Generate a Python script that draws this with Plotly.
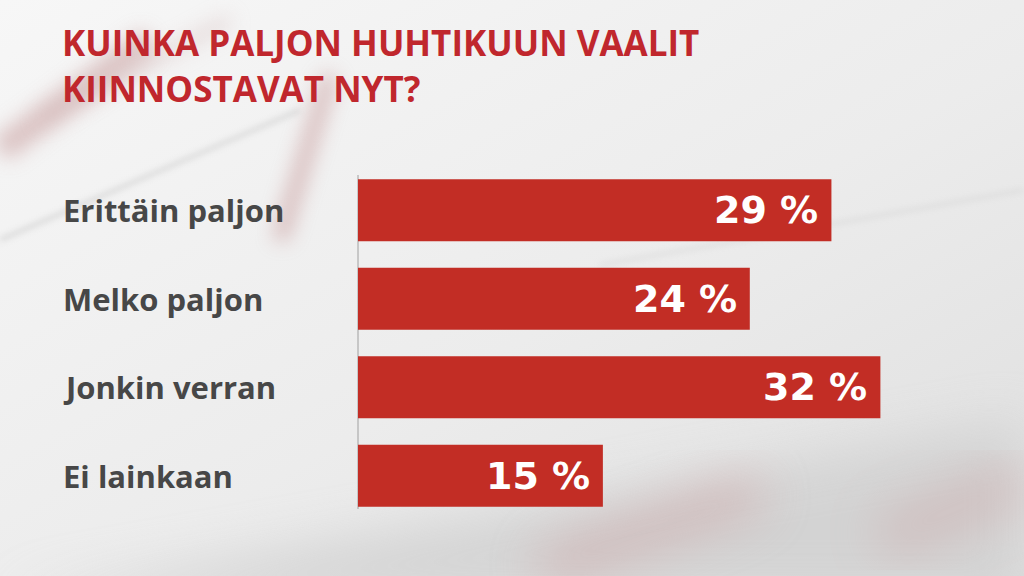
import plotly.graph_objects as go
import urllib.parse

categories = ["Erittäin paljon", "Melko paljon", "Jonkin verran", "Ei lainkaan"]
values = [29, 24, 32, 15]
value_labels = ["29 %", "24 %", "32 %", "15 %"]
title_text = "KUINKA PALJON HUHTIKUUN VAALIT<br>KIINNOSTAVAT NYT?"

BAR = "#c22d25"
RED_TITLE = "#c0272d"
LABEL = "#474747"

W, H = 1024, 576
ML, MR, MT, MB = 358, 13, 166, 56
XMAX = 40
PW, PH = W - ML - MR, H - MT - MB
TITLE_SIZE = 35


def px_x(px):
    return (px - ML) / PW


def px_y(py):
    return (H - MB - py) / PH


# soft photographic background (decoration only)
svg = f"""<svg xmlns='http://www.w3.org/2000/svg' width='{W}' height='{H}' viewBox='0 0 {W} {H}'>
<defs>
<linearGradient id='g' x1='0' y1='0' x2='1' y2='1'>
<stop offset='0' stop-color='#f7f7f7'/><stop offset='0.55' stop-color='#ececec'/><stop offset='1' stop-color='#dedede'/>
</linearGradient>
<filter id='b1' x='-50%' y='-50%' width='200%' height='200%'><feGaussianBlur stdDeviation='10'/></filter>
<filter id='b2' x='-50%' y='-50%' width='200%' height='200%'><feGaussianBlur stdDeviation='3'/></filter>
<filter id='b3' x='-50%' y='-50%' width='200%' height='200%'><feGaussianBlur stdDeviation='25'/></filter>
</defs>
<rect width='{W}' height='{H}' fill='url(#g)'/>
<path d='M0 150 L150 40' stroke='#c9a0a0' stroke-width='26' filter='url(#b1)' opacity='0.6'/>
<path d='M40 120 L230 20' stroke='#d4bcbc' stroke-width='12' filter='url(#b1)' opacity='0.5'/>
<path d='M330 75 L280 240' stroke='#c08a8a' stroke-width='14' filter='url(#b1)' opacity='0.6'/>
<path d='M0 240 L300 110' stroke='#b8b8b8' stroke-width='3' filter='url(#b2)' opacity='0.6'/>
<path d='M600 265 L1024 190' stroke='#c8c8c8' stroke-width='2' filter='url(#b2)' opacity='0.7'/>
<path d='M0 600 L1024 420 L1024 600 Z' fill='#d0d0d0' filter='url(#b3)' opacity='0.8'/>
<path d='M540 570 L760 490' stroke='#c89090' stroke-width='30' filter='url(#b3)' opacity='0.5'/>
<path d='M880 540 L1024 480' stroke='#c89a9a' stroke-width='40' filter='url(#b3)' opacity='0.4'/>
</svg>"""
bg_uri = "data:image/svg+xml;charset=utf-8," + urllib.parse.quote(svg)

fig = go.Figure()
fig.add_trace(go.Bar(
    x=values, y=categories, orientation="h",
    marker=dict(color=BAR, line=dict(width=0)),
    hoverinfo="skip",
))

annotations = []
for c, v, t in zip(categories, values, value_labels):
    annotations.append(dict(
        x=px_x(61), xref="paper", y=c, yref="y", text=c, showarrow=False,
        xanchor="left", yanchor="middle",
        font=dict(family="Open Sans, sans-serif", size=31, color=LABEL, weight="bold"),
    ))
    annotations.append(dict(
        x=v, xref="x", y=c, yref="y", text=t, showarrow=False,
        xanchor="right", yanchor="middle", xshift=-11,
        font=dict(family="DejaVu Sans, sans-serif", size=38, color="white", weight="bold"),
    ))

line_gap = 1.3 * TITLE_SIZE
annotations.append(dict(
    x=px_x(60), xref="paper", y=px_y(43 + line_gap / 2), yref="paper",
    text=title_text, showarrow=False, xanchor="left", yanchor="middle", align="left",
    font=dict(family="Open Sans, sans-serif", size=TITLE_SIZE, color=RED_TITLE, weight="bold"),
))

fig.update_layout(
    width=W, height=H,
    margin=dict(l=ML, r=MR, t=MT, b=MB),
    paper_bgcolor="#eeeeee", plot_bgcolor="rgba(0,0,0,0)",
    bargap=0.30,
    showlegend=False,
    xaxis=dict(range=[0, XMAX], visible=False, fixedrange=True),
    yaxis=dict(autorange="reversed", visible=False, fixedrange=True),
    annotations=annotations,
    images=[dict(source=bg_uri, xref="paper", yref="paper",
                 x=px_x(0), y=px_y(0), sizex=W / PW, sizey=H / PH,
                 xanchor="left", yanchor="top", sizing="stretch", layer="below")],
    shapes=[dict(type="line", xref="paper", yref="paper",
                 x0=0, x1=0, y0=px_y(175), y1=px_y(509),
                 line=dict(color="#a0a0a0", width=1), layer="below")],
)

fig.write_html("out.html", config={"displayModeBar": False},
               post_script="document.body.style.margin='0';")
